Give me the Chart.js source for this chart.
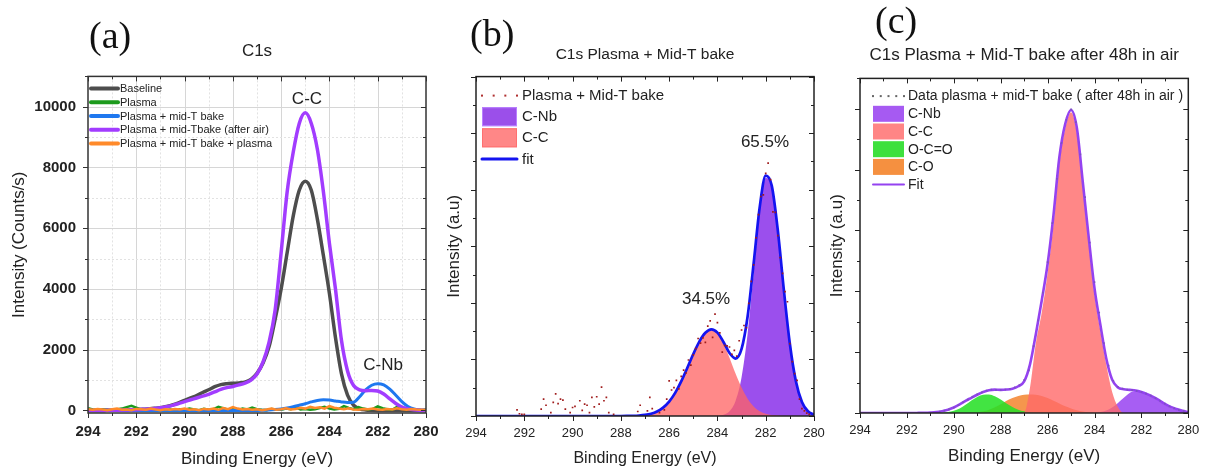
<!DOCTYPE html>
<html><head><meta charset="utf-8">
<script src="https://cdn.jsdelivr.net/npm/chart.js@4.4.1/dist/chart.umd.min.js"></script>
<style>
html,body{margin:0;padding:0;background:#fff;width:1205px;height:472px;overflow:hidden;position:relative}
canvas{position:absolute;top:0}
.pl{position:absolute;font-family:'Liberation Serif','DejaVu Serif',serif;font-size:38px;line-height:1;color:#111;white-space:nowrap}
</style></head><body>
<canvas id="ca" width="460" height="472" style="left:0px"></canvas>
<canvas id="cb" width="400" height="472" style="left:440px"></canvas>
<canvas id="cc" width="410" height="472" style="left:815px"></canvas>
<div class="pl" style="left:89px;top:16px">(a)</div>
<div class="pl" style="left:470px;top:14px">(b)</div>
<div class="pl" style="left:875px;top:1px">(c)</div>
<script>
// ---------------- DATA ----------------
const xTickLabels = [294, 292, 290, 288, 286, 284, 282, 280];
const yTickLabelsA = [0, 2000, 4000, 6000, 8000, 10000];

// common energy grid (eV)
const energy = [294,293.75,293.5,293.25,293,292.75,292.5,292.25,292,291.75,291.5,291.25,291,290.75,290.5,290.25,290,289.75,289.5,289.25,289,288.75,288.5,288.25,288,287.75,287.5,287.25,287,286.75,286.5,286.25,286,285.75,285.5,285.25,285,284.75,284.5,284.25,284,283.75,283.5,283.25,283,282.75,282.5,282.25,282,281.75,281.5,281.25,281,280.75,280.5,280.25,280];

// (a) C1s survey
const baselineA = [0,0,0,2,5,8,12,18,25,35,50,68,90,130,180,250,330,410,490,590,680,780,850,880,895,905,930,1020,1220,1560,2100,3000,4000,5200,6400,7250,7550,7250,6300,5100,3850,2400,1200,500,170,50,15,5,0,0,0,0,0,0,0,0,0];
const midTBakeA = [0,0,0,0,0,0,0,0,0,0,0,0,0,0,0,0,0,0,0,0,0,0,0,0,0,0,0,0,0,5,15,30,50,80,120,170,220,280,330,350,340,310,280,260,270,450,680,830,880,840,700,500,290,130,45,12,0];
const afterAirA = [0,0,0,2,5,8,12,18,25,35,48,65,90,125,165,225,290,350,410,470,530,610,690,750,790,840,900,1000,1200,1600,2250,3300,5200,7200,8500,9450,9800,9450,8600,7200,5500,4000,2300,1300,820,680,650,660,640,540,380,230,110,50,20,5,0];
const noiseEnergy = [294,293.8,293.6,293.4,293.2,293,292.8,292.6,292.4,292.2,292,291.8,291.6,291.4,291.2,291,290.8,290.6,290.4,290.2,290,289.8,289.6,289.4,289.2,289,288.8,288.6,288.4,288.2,288,287.8,287.6,287.4,287.2,287,286.8,286.6,286.4,286.2,286,285.8,285.6,285.4,285.2,285,284.8,284.6,284.4,284.2,284,283.8,283.6,283.4,283.2,283,282.8,282.6,282.4,282.2,282,281.8,281.6,281.4,281.2,281,280.8,280.6,280.4,280.2,280];
const plasmaA = [70,30,10,40,20,0,30,60,110,150,90,30,10,40,20,50,10,30,0,40,20,60,30,10,50,20,40,120,70,20,40,10,60,30,90,40,20,10,50,30,20,60,40,100,30,50,20,40,80,120,60,30,50,140,80,40,110,60,30,50,130,70,40,20,120,60,30,50,20,10,30];
const rePlasmaA = [40,20,50,30,10,40,60,20,30,10,50,40,20,60,30,10,40,20,50,30,60,20,40,10,50,30,60,20,80,40,110,60,30,50,20,40,10,30,60,20,40,70,30,50,90,60,120,80,100,60,140,90,60,40,70,30,20,50,40,60,30,20,50,30,70,40,20,50,30,20,10];

// (b) Plasma + Mid-T bake fit
const fitB = [0,0,0,0,0,0,0,0,0,0,0,0,0,0,0,0,0,0,0,0,0,0,0,0,0,1,3,8,19,40,80,148,255,409,611,848,1095,1316,1471,1533,1474,1309,1113,1016,1185,1758,2697,3689,4249,4073,3288,2235,1278,613,248,84,24];
const ccB = [0,0,0,0,0,0,0,0,0,0,0,0,0,0,0,0,0,0,0,0,0,0,0,0,0,1,3,8,19,40,80,148,255,409,611,848,1095,1316,1471,1532,1469,1287,1030,752,502,306,170,86,40,17,7,2,1,0,0,0,0];
const cnbB = [0,0,0,0,0,0,0,0,0,0,0,0,0,0,0,0,0,0,0,0,0,0,0,0,0,0,0,0,0,0,0,0,0,0,0,0,0,0,0,1,5,22,83,264,683,1452,2527,3603,4209,4056,3281,2233,1277,613,248,84,24];
const dataBx = [292.3,292.2,292.1,292.0,291.3,291.2,291.1,290.9,290.8,290.7,290.6,290.5,290.4,290.3,290.1,290.0,289.9,289.7,289.6,289.5,289.4,289.3,289.2,289.1,289.0,288.9,288.8,288.7,288.6,288.5,288.3,287.3,287.2,286.9,286.8,286.7,286.4,286.2,286.1,286.0,285.9,285.8,285.7,285.6,285.5,285.4,285.3,285.2,285.1,285.0,284.9,284.8,284.7,284.6,284.5,284.4,284.3,284.2,284.1,284.0,283.9,283.8,283.7,283.6,283.5,283.4,283.3,283.2,283.1,283.0,282.9,282.8,282.7,282.6,282.5,282.4,282.3,282.2,282.1,282.0,281.9,281.8,281.7,281.6,281.5,281.4,281.3,281.2,281.1,281.0,280.9,280.8,280.7,280.6,280.5,280.4,280.3,280.2];
const dataBy = [110,40,30,30,120,300,190,60,240,390,220,300,280,120,60,150,170,270,100,210,190,60,330,160,340,210,510,270,330,60,30,80,190,90,330,130,60,110,300,620,460,500,630,480,700,810,760,990,900,1080,1190,1370,1290,1380,1300,1590,1680,1390,1800,1650,1470,1130,1250,1240,1220,1090,1160,1060,1330,1520,1600,1560,1990,2380,2670,3150,3560,3880,3910,4290,4470,4180,3610,3600,3190,2800,2520,2200,2020,1280,960,750,630,300,130,90,50,30];

// (c) after 48h in air fit
const fitC = [0,0,0,0,0,0,0,0,0,0,2,4,8,15,30,55,90,140,200,250,300,345,375,385,380,385,400,440,520,800,1300,1850,2450,3250,4200,4750,4980,4680,3800,2900,2050,1450,900,550,420,390,380,370,345,310,265,210,150,100,65,35,15];
const cnbC = [0,0,0,0,0,0,0,0,0,0,0,0,0,0,0,0,0,0,0,0,0,0,0,0,0,0,0,0,0,0,0,0,0,0,0,0,0,0,0,0,0,15,40,90,165,250,330,360,350,310,255,195,135,85,50,25,12];
const ccC = [0,0,0,0,0,0,0,0,0,0,0,0,0,0,0,0,0,0,0,0,0,0,0,0,0,0,0,0,10,420,1150,1650,2300,3100,4100,4680,4944,4600,3700,2800,1950,1350,800,350,100,0,0,0,0,0,0,0,0,0,0,0,0];
const ococC = [0,0,0,0,0,0,0,0,0,0,0,0,0,2,5,15,35,75,135,205,265,300,305,275,220,155,100,55,28,12,4,0,0,0,0,0,0,0,0,0,0,0,0,0,0,0,0,0,0,0,0,0,0,0,0,0,0];
const coC = [0,0,0,0,0,0,0,0,0,0,0,0,0,0,0,0,0,0,0,5,12,28,55,95,145,200,245,280,300,305,300,280,245,200,155,110,75,45,25,12,5,0,0,0,0,0,0,0,0,0,0,0,0,0,0,0,0];
const dataCx = [290.6,290.4,290.2,290.0,289.8,289.6,289.4,289.2,289.0,288.8,288.6,288.4,288.2,288.0,287.8,287.6,287.4,287.2,287.0,286.8,286.6,286.4,286.2,286.0,285.8,285.6,285.4,285.2,285.0,284.8,284.6,284.4,284.2,284.0,283.8,283.6,283.4,283.2,283.0,282.8,282.6,282.4,282.2,282.0,281.8,281.6,281.4,281.2,281.0,280.8,280.6,280.4,280.2];
const dataCy = [25,40,60,90,130,180,220,265,305,340,370,385,380,378,385,395,420,460,540,700,1100,1520,1980,2480,3120,3850,4440,4820,4990,4780,4250,3550,2800,2150,1650,1150,780,530,430,400,385,375,365,345,320,285,245,200,155,110,75,50,30];

// ---------------- helpers ----------------
const pts = (xs, ys) => xs.map((x, i) => ({x: x, y: ys[i]}));
Chart.defaults.font.family = "'Liberation Sans', Arial, sans-serif";
Chart.defaults.color = '#222';

const framePlugin = {
  id: 'frame',
  beforeDatasetsDraw(chart, args, o) {
    if (!o.grid) return;
    const {ctx, chartArea: a, scales: {x, y}} = chart;
    ctx.save();
    ctx.lineWidth = 1;
    for (let v = 293; v > 280; v -= 1) {
      const p = Math.round(x.getPixelForValue(v)) + 0.5;
      const major = v % 2 === 0;
      ctx.strokeStyle = major ? '#d6d6d6' : '#e2e2e2';
      ctx.setLineDash(major ? [] : [2, 2]);
      ctx.beginPath(); ctx.moveTo(p, a.top); ctx.lineTo(p, a.bottom); ctx.stroke();
    }
    for (let v = o.yMinor; v < o.yTop; v += o.yMinor) {
      const p = Math.round(y.getPixelForValue(v)) + 0.5;
      const major = v % o.yMajor === 0;
      ctx.strokeStyle = major ? '#d6d6d6' : '#e2e2e2';
      ctx.setLineDash(major ? [] : [2, 2]);
      ctx.beginPath(); ctx.moveTo(a.left, p); ctx.lineTo(a.right, p); ctx.stroke();
    }
    ctx.restore();
  },
  afterDraw(chart, args, o) {
    const {ctx, chartArea: a, scales: {x, y}} = chart;
    ctx.save();
    ctx.strokeStyle = o.color; ctx.lineWidth = 1;
    ctx.setLineDash([]);
    for (let v = 294; v >= 280; v -= 1) {
      const p = Math.round(x.getPixelForValue(v)) + 0.5;
      const L = v % 2 === 0 ? 5 : 3;
      ctx.beginPath();
      ctx.moveTo(p, a.bottom); ctx.lineTo(p, a.bottom + L);
      ctx.moveTo(p, a.top); ctx.lineTo(p, a.top + L);
      ctx.stroke();
    }
    for (let v = 0; v <= o.yTop; v += o.yMinor) {
      const p = Math.round(y.getPixelForValue(v)) + 0.5;
      const L = v % o.yMajor === 0 ? 5 : 3;
      ctx.beginPath();
      ctx.moveTo(a.left, p); ctx.lineTo(a.left - L, p);
      ctx.moveTo(a.right, p); ctx.lineTo(a.right - L, p);
      ctx.stroke();
    }
    ctx.lineWidth = o.frameWidth;
    ctx.strokeRect(a.left, a.top, a.right - a.left, a.bottom - a.top);
    // annotations
    ctx.fillStyle = '#222';
    ctx.textAlign = 'center'; ctx.textBaseline = 'middle';
    (o.notes || []).forEach(n => {
      ctx.font = n.size + "px 'Liberation Sans', Arial, sans-serif";
      ctx.fillText(n.text, x.getPixelForValue(n.x), y.getPixelForValue(n.y));
    });
    // legend
    const L = o.legend;
    ctx.textAlign = 'left';
    ctx.font = L.size + "px 'Liberation Sans', Arial, sans-serif";
    L.items.forEach((it, i) => {
      const ds = chart.data.datasets[it.ds];
      const cy = a.top + L.y0 + i * L.step;
      const x0 = a.left + L.x0, x1 = a.left + L.x1;
      if (it.kind === 'line') {
        ctx.strokeStyle = ds.borderColor; ctx.lineWidth = L.lw; ctx.lineCap = 'round';
        ctx.beginPath(); ctx.moveTo(x0, cy); ctx.lineTo(x1, cy); ctx.stroke();
        ctx.lineCap = 'butt';
      } else if (it.kind === 'box') {
        ctx.fillStyle = it.fill; ctx.fillRect(x0, cy - L.boxH / 2, x1 - x0, L.boxH);
        if (it.edge) { ctx.strokeStyle = it.edge; ctx.lineWidth = 1; ctx.strokeRect(x0 + 0.5, cy - L.boxH / 2 + 0.5, x1 - x0 - 1, L.boxH - 1); }
      } else {
        ctx.fillStyle = it.dot;
        const n = it.n;
        for (let k = 0; k < n; k++) {
          const px = x0 + k * (x1 - x0) / (n - 1);
          ctx.fillRect(px - 1, cy - 1, 2, 2);
        }
      }
      ctx.fillStyle = '#222';
      ctx.fillText(ds.label, a.left + L.tx, cy + 0.5);
    });
    ctx.restore();
  }
};

function panel(id, c) {
  return new Chart(document.getElementById(id), {
    type: 'scatter',
    data: {datasets: c.datasets},
    options: {
      responsive: false, animation: false, devicePixelRatio: 1,
      layout: {padding: {left: 0, right: c.padRight, top: 0, bottom: 0}},
      plugins: {
        legend: {display: false}, tooltip: {enabled: false},
        title: {display: true, fullSize: false, text: c.title, color: '#222',
          font: {size: c.titleSize, weight: 'normal'}, padding: {top: c.titleTop, bottom: c.titleBottom}},
        frame: c.frame
      },
      scales: {
        x: {type: 'linear', reverse: true, min: 280, max: 294,
          afterBuildTicks: s => { s.ticks = xTickLabels.map(v => ({value: v})); },
          afterFit: s => { s.height = c.xHeight; },
          grid: {display: false, drawTicks: false}, border: {display: false},
          ticks: {autoSkip: false, maxRotation: 0, padding: c.xPad, color: '#222',
            font: {size: c.tickSize, weight: c.tickWeight}, callback: v => String(v)},
          title: {display: true, text: 'Binding Energy (eV)', color: '#222',
            font: {size: c.xTitleSize}, padding: {top: 0, bottom: c.xTitlePad}}},
        y: {type: 'linear', min: c.yMin, max: c.yMax,
          afterBuildTicks: s => { s.ticks = c.yTicks.map(v => ({value: v})); },
          afterFit: s => { s.width = c.yWidth; },
          grid: {display: false, drawTicks: false}, border: {display: false},
          ticks: {display: c.yTicks.length > 0, padding: 12, color: '#222',
            font: {size: c.tickSize, weight: c.tickWeight}, callback: v => String(v)},
          title: {display: true, text: c.yTitle, color: '#222',
            font: {size: 17}, padding: {top: c.yTitlePad, bottom: 0}}}
      }
    },
    plugins: [framePlugin]
  });
}

const line = (label, xs, ys, color, w, order, smooth) => ({
  label: label, data: pts(xs, ys), showLine: true, borderColor: color, borderWidth: w,
  pointRadius: 0, fill: false, order: order,
  cubicInterpolationMode: smooth ? 'monotone' : 'default', tension: 0
});
const area = (label, xs, ys, color, order) => ({
  label: label, data: pts(xs, ys), showLine: true, borderColor: 'rgba(0,0,0,0)', borderWidth: 0,
  backgroundColor: color, pointRadius: 0, fill: 'origin', order: order,
  cubicInterpolationMode: 'monotone'
});
const dots = (label, xs, ys, color, order) => ({
  label: label, data: pts(xs, ys), showLine: false, pointStyle: 'rect', pointRadius: 1.2,
  pointBackgroundColor: color, pointBorderWidth: 0, backgroundColor: color, borderColor: color, order: order
});

// ---------------- (a) ----------------
panel('ca', {
  datasets: [
    line('Baseline', energy, baselineA, '#4d4d4d', 3.5, 5, true),
    line('Plasma', noiseEnergy, plasmaA, '#1c9a1c', 2.5, 4, false),
    line('Plasma + mid-T bake', energy, midTBakeA, '#1f78ef', 3, 3, true),
    line('Plasma + mid-Tbake (after air)', energy, afterAirA, '#a23cff', 3.5, 2, true),
    line('Plasma + mid-T bake + plasma', noiseEnergy, rePlasmaA, '#ff8a2a', 2.5, 1, false)
  ],
  title: 'C1s', titleSize: 17, titleTop: 41, titleBottom: 15,
  padRight: 34, xHeight: 59, xPad: 10, tickSize: 15, tickWeight: 'bold', xTitleSize: 17, xTitlePad: 2,
  yMin: -85, yMax: 11000, yTicks: yTickLabelsA, yWidth: 88, yTitle: 'Intensity (Counts/s)', yTitlePad: 9,
  frame: {grid: true, color: '#333', frameWidth: 1.5, yMinor: 1000, yMajor: 2000, yTop: 11000,
    notes: [{text: 'C-C', x: 284.93, y: 10230, size: 17}, {text: 'C-Nb', x: 281.78, y: 1480, size: 17}],
    legend: {x0: 3, x1: 30, tx: 32, y0: 12, step: 13.8, size: 11, lw: 4, boxH: 0,
      items: [{ds: 0, kind: 'line'}, {ds: 1, kind: 'line'}, {ds: 2, kind: 'line'}, {ds: 3, kind: 'line'}, {ds: 4, kind: 'line'}]}}
});

// ---------------- (b) ----------------
panel('cb', {
  datasets: [
    dots('Plasma + Mid-T bake', dataBx, dataBy, '#a01c1c', 0),
    area('C-Nb', energy, cnbB, 'rgba(150,70,236,0.95)', 3),
    area('C-C', energy, ccB, 'rgba(255,100,100,0.76)', 2),
    line('fit', energy, fitB, '#1414f0', 2.7, 1, true)
  ],
  title: 'C1s Plasma + Mid-T bake', titleSize: 15.5, titleTop: 45, titleBottom: 13,
  padRight: 26, xHeight: 56, xPad: 10, tickSize: 13, tickWeight: 'normal', xTitleSize: 16, xTitlePad: 4,
  yMin: 0, yMax: 6000, yTicks: [], yWidth: 36, yTitle: 'Intensity (a.u)', yTitlePad: 4,
  frame: {grid: false, color: '#222', frameWidth: 1.5, yMinor: 500, yMajor: 1000, yTop: 6000,
    notes: [{text: '65.5%', x: 282.03, y: 4840, size: 17}, {text: '34.5%', x: 284.47, y: 2065, size: 17}],
    legend: {x0: 6, x1: 41, tx: 46, y0: 19, step: 21.1, size: 15, lw: 3, boxH: 19,
      items: [{ds: 0, kind: 'dots', dot: '#b03030', n: 4},
              {ds: 1, kind: 'box', fill: '#9b4fea', edge: '#b980ff'},
              {ds: 2, kind: 'box', fill: '#ff8787', edge: '#ff7070'},
              {ds: 3, kind: 'line'}]}}
});

// ---------------- (c) ----------------
panel('cc', {
  datasets: [
    dots('Data plasma + mid-T bake ( after 48h in air )', dataCx, dataCy, '#7d52c0', 0),
    area('C-Nb', energy, cnbC, 'rgba(160,80,242,0.92)', 5),
    area('C-C', energy, ccC, 'rgba(255,105,105,0.8)', 2),
    area('O-C=O', energy, ococC, 'rgba(40,224,40,0.88)', 3),
    area('C-O', energy, coC, 'rgba(244,136,52,0.88)', 4),
    line('Fit', energy, fitC, '#9442f0', 2.6, 1, true)
  ],
  title: 'C1s Plasma + Mid-T bake after 48h in air', titleSize: 17, titleTop: 45, titleBottom: 13,
  padRight: 36.7, xHeight: 59, xPad: 10, tickSize: 13, tickWeight: 'normal', xTitleSize: 17, xTitlePad: 5,
  yMin: 0, yMax: 5500, yTicks: [], yWidth: 45, yTitle: 'Intensity (a.u)', yTitlePad: 12,
  frame: {grid: false, color: '#222', frameWidth: 1.5, yMinor: 500, yMajor: 1000, yTop: 5500,
    notes: [],
    legend: {x0: 13, x1: 44, tx: 48, y0: 17.7, step: 17.7, size: 14, lw: 2, boxH: 16,
      items: [{ds: 0, kind: 'dots', dot: '#666', n: 5},
              {ds: 1, kind: 'box', fill: '#a65af2'},
              {ds: 2, kind: 'box', fill: '#ff8585'},
              {ds: 3, kind: 'box', fill: '#3de03d'},
              {ds: 4, kind: 'box', fill: '#f59040'},
              {ds: 5, kind: 'line'}]}}
});
</script>
</body></html>
